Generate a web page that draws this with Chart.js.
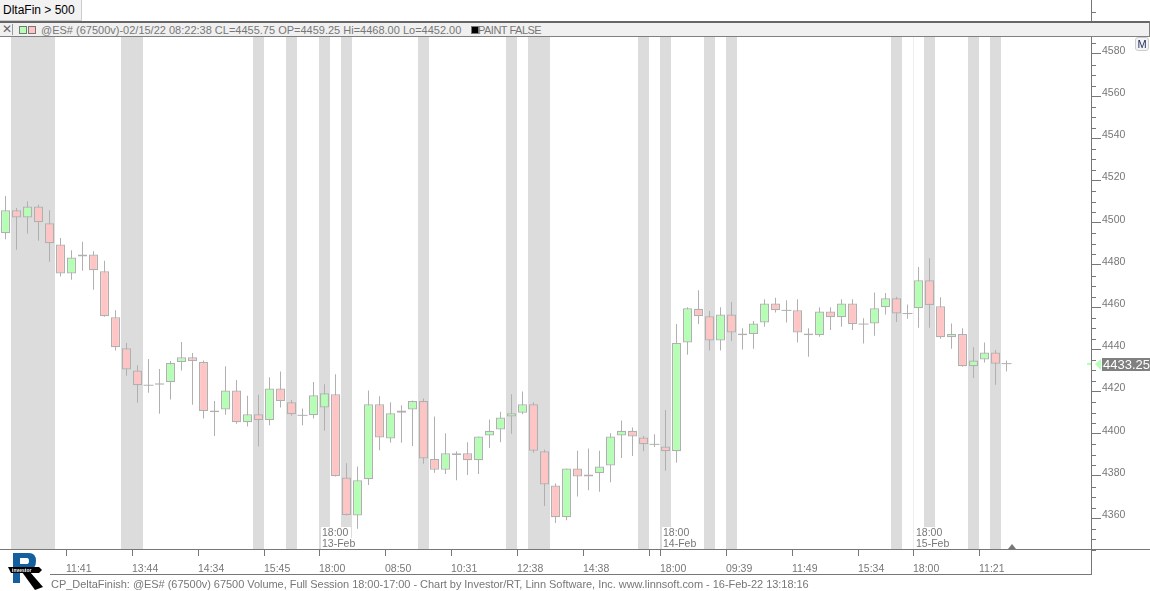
<!DOCTYPE html>
<html>
<head>
<meta charset="utf-8">
<title>CP_DeltaFinish</title>
<script src="https://cdn.jsdelivr.net/npm/chart.js@4/dist/chart.umd.min.js"></script>
<style>
  html, body { margin: 0; padding: 0; background: #fff; overflow: hidden; }
  body { width: 1150px; height: 591px; position: relative; font-family: "Liberation Sans", sans-serif; }
  #grafica { position: absolute; left: 0; top: 0; }
  .abs { position: absolute; white-space: nowrap; }
  #caja { left: 0; top: 0; width: 81px; height: 20px; background: #f2f2f2; border-right: 1px solid #ccc; border-bottom: 1px solid #ccc; }
  #caja span { position: absolute; left: 3px; top: 3px; font-size: 12px; color: #000; }
  #tapa { left: 82px; top: 0; width: 1009px; height: 21px; background: #fff; }
  #barra { left: 0; top: 21px; width: 1149px; height: 13px; background: #f0f0f0; border-top: 2px solid #666; border-bottom: 1px solid #808080; border-right: 1px solid #808080; }
  #linea-der { left: 1091px; top: 549px; width: 1px; height: 25px; background: #777; }
  #linea-pie { left: 50px; top: 574px; width: 1042px; height: 1px; background: #777; }
  #linea-x { left: 1091px; top: 549px; width: 59px; height: 1px; background: #777; }
  .txt { font-size: 11px; color: #777; }
  #boton-m { left: 1135px; top: 37px; width: 12px; height: 12px; border: 1px solid #ccc; border-radius: 3px; background: #f4f4f4; font-size: 11px; line-height: 12px; text-align: center; color: #1c2a5a; }
</style>
</head>
<body>
<canvas id="grafica" width="1150" height="591"></canvas>

<div class="abs" id="tapa"></div>
<div class="abs" id="caja"><span>DltaFin &gt; 500</span></div>
<div class="abs" id="barra"></div>
<div class="abs" style="left:2px;top:24px;width:10px;height:11px;border-right:1px solid #999;font-size:12px;line-height:11px;color:#666;">&#10005;</div>
<div class="abs" style="left:19px;top:26px;width:6px;height:6px;background:#b4ffb4;border:1px solid #777;"></div>
<div class="abs" style="left:28px;top:26px;width:6px;height:6px;background:#ffc4c4;border:1px solid #777;"></div>
<div class="abs txt" style="left:41px;top:24px;">@ES# (67500v)-02/15/22 08:22:38 CL=4455.75 OP=4459.25 Hi=4468.00 Lo=4452.00</div>
<div class="abs" style="left:471px;top:26px;width:6px;height:6px;background:#000;border:1px solid #777;"></div>
<div class="abs txt" style="left:478px;top:24px;letter-spacing:-0.5px;">PAINT FALSE</div>
<div class="abs" id="boton-m">M</div>

<div class="abs" id="linea-der"></div>
<div class="abs" id="linea-x"></div>
<div class="abs" id="linea-pie"></div>
<div class="abs txt" style="left:51px;top:578px;letter-spacing:-0.04px;">CP_DeltaFinish: @ES# (67500v) 67500 Volume, Full Session 18:00-17:00 - Chart by Investor/RT, Linn Software, Inc. www.linnsoft.com - 16-Feb-22 13:18:16</div>

<svg class="abs" style="left:0;top:545px;" width="50" height="46" viewBox="0 545 50 46">
  <path d="M13 553 H29 Q36 553 36 561 Q36 569 29 570 H20 V583 H13 Z M20 558 V564 H27 Q29 564 29 561 Q29 558 27 558 Z" fill="#14609e" fill-rule="evenodd"/>
  <path d="M22 572 L30 572 L43 587 L35 590 Z" fill="#000"/>
  <path d="M8 567 H39 L42 570 L39 573 H11 Z" fill="#000"/>
  <text x="12" y="572" font-size="5" font-weight="bold" fill="#fff" font-family="Liberation Sans">investor</text>
</svg>

<script>
// OHLC, one candle per slot
var opens = [
  4495, 4506, 4502.5, 4507.75, 4499.75, 4489.75, 4476, 4484, 4485, 4477,
  4455.25, 4440.5, 4430, 4423, 4424, 4424.5, 4434, 4436.25, 4434, 4411,
  4411.5, 4420.5, 4405.5, 4409.25, 4406.5, 4421.5, 4415, 4408.75, 4408.75, 4412.5,
  4418.75, 4379.25, 4361.25, 4378.5, 4414, 4397.75, 4410, 4411.5, 4415.5, 4388,
  4383, 4390.75, 4390.75, 4387.5, 4399.25, 4402, 4408.25, 4410, 4414, 4391.75,
  4375.5, 4360.5, 4383.5, 4379.75, 4381.25, 4385, 4399.25, 4401.5, 4398.25, 4395,
  4394, 4391.75, 4443.25, 4459.25, 4455.75, 4444.25, 4456.5, 4447.5, 4447.25, 4452.75,
  4461.75, 4458.5, 4458.5, 4447.5, 4446.75, 4458, 4455.25, 4461.75, 4452, 4452.25,
  4460, 4464.25, 4457, 4459.5, 4472.75, 4460.5, 4445.75, 4447.25, 4432, 4435.25,
  4438.5, 4433.25
];
var highs = [
  4512.75, 4507, 4510.25, 4508.5, 4506, 4492.75, 4487, 4491, 4486.5, 4482,
  4458.5, 4443, 4432.5, 4435.5, 4430.75, 4434.5, 4443.5, 4438.25, 4434.75, 4415.5,
  4432, 4425.5, 4418, 4418.5, 4426.75, 4429.5, 4416, 4412, 4424.5, 4423.5,
  4428.25, 4386, 4384.5, 4420.5, 4417.75, 4415, 4413.5, 4415.75, 4416.75, 4408.25,
  4400.25, 4391.75, 4396, 4398.75, 4406.75, 4410.5, 4418.75, 4420, 4415, 4392.5,
  4376.5, 4383.5, 4392, 4393, 4392, 4400.25, 4406.25, 4403, 4399, 4399.75,
  4411.25, 4452, 4460, 4468, 4458.25, 4460, 4462.5, 4450, 4453.5, 4463.75,
  4464.5, 4463.25, 4463.75, 4450, 4460, 4460, 4463.75, 4463.75, 4454.75, 4467,
  4466.75, 4465, 4461.25, 4479, 4483.25, 4464.75, 4452.25, 4450, 4441, 4443.25,
  4439.75, 4434.75
];
var lows = [
  4492.25, 4487.25, 4494.75, 4491.5, 4481.5, 4474.5, 4473, 4477.25, 4468.25, 4455.5,
  4439.5, 4427.5, 4414.75, 4419.5, 4409.5, 4416.25, 4430, 4413.75, 4407.25, 4399,
  4409, 4404.75, 4403.5, 4394, 4404, 4412.5, 4408.5, 4404, 4407.25, 4401.5,
  4379.75, 4361.25, 4355, 4375.75, 4392.25, 4395.75, 4395.75, 4394.25, 4385.75, 4381.5,
  4381, 4378, 4380.5, 4381, 4393.25, 4396, 4400, 4409.25, 4391, 4365.75,
  4357.75, 4359, 4370.25, 4373.25, 4372.5, 4377, 4388.5, 4389.5, 4391.75, 4393.75,
  4382.5, 4386.25, 4437.5, 4452, 4439.5, 4439.5, 4444, 4440, 4440.25, 4450.75,
  4457.5, 4452.75, 4443.25, 4436.5, 4446, 4449.25, 4450.75, 4449.25, 4442.75, 4446.5,
  4456.5, 4453, 4454.5, 4450.25, 4450.25, 4445, 4440.25, 4431.75, 4426.5, 4433.75,
  4423.25, 4429.5
];
var closes = [
  4506, 4502.5, 4507.75, 4500.25, 4490.25, 4476, 4483.5, 4485, 4477.5, 4455.75,
  4441, 4430.5, 4423, 4423, 4423.25, 4433.5, 4436.25, 4434.5, 4410.75, 4410.25,
  4420.5, 4405.5, 4409.25, 4406.5, 4421.5, 4415.5, 4409.25, 4408.75, 4418.25, 4419.25,
  4380, 4361.5, 4378, 4414, 4398.25, 4409.75, 4411, 4415.5, 4388.25, 4383,
  4390.75, 4390, 4387.5, 4398.75, 4401.5, 4407.75, 4409.75, 4414, 4392, 4376,
  4360.5, 4383.5, 4379.75, 4380.75, 4384.5, 4398.75, 4401.5, 4398.75, 4395, 4395,
  4391.75, 4443, 4459.5, 4455.75, 4444.25, 4456.5, 4448, 4446.75, 4452.25, 4461.75,
  4458.5, 4458.5, 4448, 4446.75, 4458, 4455.25, 4461.75, 4452, 4452, 4459.5,
  4464.25, 4457, 4457, 4472.75, 4461, 4445.75, 4447.25, 4432, 4434.75, 4438.5,
  4433.25, 4433.25
];

// slots that get the grey DltaFin > 500 band
var bandSlots = [1, 2, 3, 4, 11, 12, 23, 26, 29, 31, 38, 46, 48, 49, 58, 60, 64, 66, 81, 84, 88, 90];
var bandFloor = 4345.4;
var bandCeil = 4588;

var xTickSlots = [5.5, 11.5, 17.5, 23.5, 28.5, 34.5, 40.5, 46.5, 52.5, 58.5, 59.5, 65.5, 71.5, 77.5, 82.5, 88.5];
var xTickLabels = ['11:41', '13:44', '14:34', '15:45', '18:00', '08:50', '10:31', '12:38', '14:38', '', '18:00', '09:39', '11:49', '15:34', '18:00', '11:21'];

var sessionSlots = [28.5, 59.5, 82.5];
var sessionTimes = ['18:00', '18:00', '18:00'];
var sessionDates = ['13-Feb', '14-Feb', '15-Feb'];

var yTicks = [4360, 4380, 4400, 4420, 4440, 4460, 4480, 4500, 4520, 4540, 4560, 4580];
var lastPrice = 4433.25;

var GREEN = '#b4ffb4';
var RED = '#ffc4c4';
var EDGE = '#b0b0b0';
var AXIS = '#777777';
var TEXT = '#777777';
var FONT = '"Liberation Sans", sans-serif';

var slots = opens.map(function (o, i) { return i; });

var adornos = {
  id: 'adornos',
  afterDraw: function (chart) {
    var ctx = chart.ctx;
    var ys = chart.scales.y;
    var xs = chart.scales.x;
    var right = chart.chartArea.right;

    // minor ticks on the price axis
    ctx.save();
    ctx.fillStyle = AXIS;
    for (var v = 4345; v <= 4600; v += 5) {
      if (v % 20 === 0 && v !== 4600) continue;
      if (v > 4585 && v < 4600) continue;
      ctx.fillRect(right, Math.round(ys.getPixelForValue(v)), 5, 1);
    }

    // last price marker
    var py = Math.round(ys.getPixelForValue(lastPrice));
    ctx.fillStyle = GREEN;
    ctx.fillRect(right - 4, py - 1, 4, 2);
    ctx.beginPath();
    ctx.moveTo(right + 4, py);
    ctx.lineTo(right + 10, py - 5);
    ctx.lineTo(right + 10, py + 6);
    ctx.closePath();
    ctx.fill();
    ctx.fillStyle = '#808080';
    ctx.fillRect(right + 11, py - 6, 48, 13);
    ctx.fillStyle = '#ffffff';
    ctx.font = '13px ' + FONT;
    ctx.textBaseline = 'middle';
    ctx.textAlign = 'left';
    ctx.fillText(lastPrice.toFixed(2), right + 12, py + 1);

    // session labels at the foot of the plot
    ctx.font = '10.5px ' + FONT;
    sessionSlots.forEach(function (s, i) {
      var x = Math.round(xs.getPixelForValue(s));
      ctx.fillStyle = '#ffffff';
      ctx.fillRect(x + 2, 527, 30, 11);
      ctx.fillRect(x + 2, 538, 35, 11);
      ctx.fillStyle = TEXT;
      ctx.fillText(sessionTimes[i], x + 3, 533);
      ctx.fillText(sessionDates[i], x + 3, 544);
    });

    // little triangle on the time axis
    var tx = xs.getPixelForValue(91.5);
    ctx.fillStyle = '#777777';
    ctx.beginPath();
    ctx.moveTo(tx, 544);
    ctx.lineTo(tx + 4, 549);
    ctx.lineTo(tx - 4, 549);
    ctx.closePath();
    ctx.fill();
    ctx.restore();
  }
};

var ctx = document.getElementById('grafica').getContext('2d');
var grafica = new Chart(ctx, {
  type: 'bar',
  data: {
    datasets: [
      {
        label: 'Cuerpo',
        order: 1,
        grouped: false,
        data: slots.map(function (i) { return { x: i, y: [opens[i], closes[i]] }; }),
        barThickness: 9,
        backgroundColor: function (c) { return closes[c.dataIndex] >= opens[c.dataIndex] ? GREEN : RED; },
        borderColor: EDGE,
        borderWidth: 1.25,
        borderSkipped: false,
        inflateAmount: 0
      },
      {
        label: 'Doji',
        type: 'line',
        order: 2,
        showLine: false,
        data: slots.filter(function (i) { return opens[i] === closes[i]; }).map(function (i) { return { x: i, y: closes[i] }; }),
        pointStyle: 'line',
        pointRadius: 5,
        pointBorderWidth: 1,
        pointBorderColor: EDGE
      },
      {
        label: 'Mecha',
        order: 3,
        grouped: false,
        data: slots.map(function (i) { return { x: i, y: [lows[i], highs[i]] }; }),
        barThickness: 1,
        backgroundColor: EDGE,
        inflateAmount: 0
      },
      {
        label: 'DltaFin > 500',
        order: 4,
        grouped: false,
        data: bandSlots.map(function (i) { return { x: i, y: [bandFloor, bandCeil] }; }),
        barThickness: 11,
        backgroundColor: '#dcdcdc',
        inflateAmount: 0
      }
    ]
  },
  options: {
    responsive: false,
    animation: false,
    layout: { padding: 0, autoPadding: false },
    plugins: { legend: { display: false }, tooltip: { enabled: false } },
    scales: {
      x: {
        type: 'linear',
        bounds: 'data',
        offset: false,
        min: -0.5,
        max: 98.68,
        border: { color: AXIS },
        grid: {
          offset: false,
          tickLength: 7,
          tickColor: AXIS,
          color: function (c) {
            return c.tick && sessionSlots.indexOf(c.tick.value) >= 0 ? '#eeeeee' : 'rgba(0,0,0,0)';
          }
        },
        ticks: {
          autoSkip: false,
          maxRotation: 0,
          align: 'start',
          padding: 7,
          color: TEXT,
          font: { family: FONT, size: 10.5 },
          callback: function (v, i) { return xTickLabels[i]; }
        },
        afterBuildTicks: function (s) { s.ticks = xTickSlots.map(function (v) { return { value: v }; }); },
        afterFit: function (s) { s.height = 42; s.paddingLeft = 0; s.paddingRight = 0; }
      },
      y: {
        position: 'right',
        bounds: 'data',
        min: 4345.4,
        max: 4605.59,
        border: { color: AXIS },
        grid: { drawOnChartArea: false, tickLength: 10, tickColor: AXIS },
        ticks: {
          padding: 1,
          labelOffset: -3,
          color: TEXT,
          font: { family: FONT, size: 10.5 },
          callback: function (v) { return String(v); }
        },
        afterBuildTicks: function (s) { s.ticks = yTicks.map(function (v) { return { value: v }; }); },
        afterFit: function (s) { s.width = 59; s.paddingTop = 0; s.paddingBottom = 0; }
      }
    }
  },
  plugins: [adornos]
});
</script>
</body>
</html>
